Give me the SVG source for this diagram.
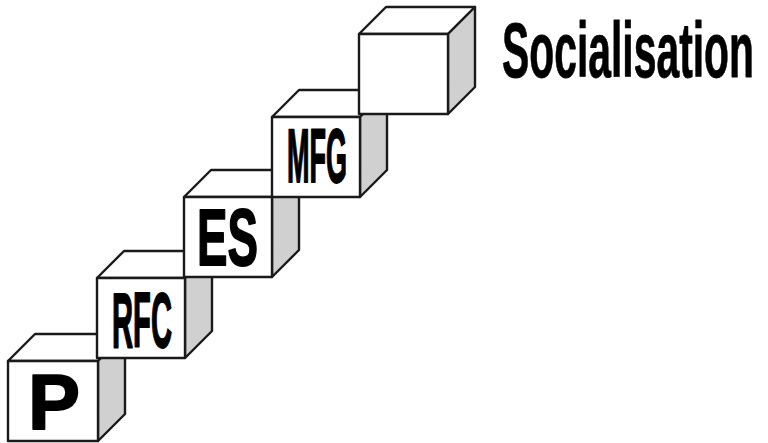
<svg xmlns="http://www.w3.org/2000/svg" width="768" height="443" viewBox="0 0 768 443">
<style>
.face{fill:#ffffff;stroke:#1a1a1a;stroke-width:2.4;stroke-linejoin:round}
.side{fill:#d0d0d0;stroke:#1a1a1a;stroke-width:2.4;stroke-linejoin:round}
.lbl{font-family:"Liberation Sans",Arial,sans-serif;font-weight:bold;fill:#000;stroke:#000;stroke-width:1.8;stroke-linejoin:round}
.title{font-family:"Liberation Sans",Arial,sans-serif;font-weight:bold;fill:#000;stroke:#000;stroke-width:0.8;stroke-linejoin:round}
</style>
<rect width="768" height="443" fill="#ffffff"/>
<g id="cube-p">
<polygon class="face" points="8,361 35,334 125,334 98,361"/>
<polygon class="side" points="98,361 125,334 125,414 98,441"/>
<rect class="face" x="8" y="361" width="90" height="80"/>
<text class="lbl" x="54" y="429" font-size="78" text-anchor="middle">P</text>
</g>
<g id="cube-rfc">
<polygon class="face" points="97,278 124,251 212,251 185,278"/>
<polygon class="side" points="185,278 212,251 212,331 185,358"/>
<rect class="face" x="97" y="278" width="88" height="80"/>
<text class="lbl" x="112" y="347" font-size="78" textLength="60" lengthAdjust="spacingAndGlyphs">RFC</text>
</g>
<g id="cube-es">
<polygon class="face" points="184,197 211,170 299,170 272,197"/>
<polygon class="side" points="272,197 299,170 299,250 272,277"/>
<rect class="face" x="184" y="197" width="88" height="80"/>
<text class="lbl" x="197" y="265" font-size="80" textLength="61" lengthAdjust="spacingAndGlyphs">ES</text>
</g>
<g id="cube-mfg">
<polygon class="face" points="272,117 299,90 387,90 360,117"/>
<polygon class="side" points="360,117 387,90 387,170 360,197"/>
<rect class="face" x="272" y="117" width="88" height="80"/>
<text class="lbl" x="287" y="182" font-size="76" textLength="60" lengthAdjust="spacingAndGlyphs">MFG</text>
</g>
<g id="cube-top">
<polygon class="face" points="359,34 386,7 475,7 448,34"/>
<polygon class="side" points="448,34 475,7 475,87 448,114"/>
<rect class="face" x="359" y="34" width="89" height="80"/>
</g>
<g id="label-socialisation">
<text class="title" x="502" y="77" font-size="78" textLength="252" lengthAdjust="spacingAndGlyphs">Socialisation</text>
</g>
</svg>
